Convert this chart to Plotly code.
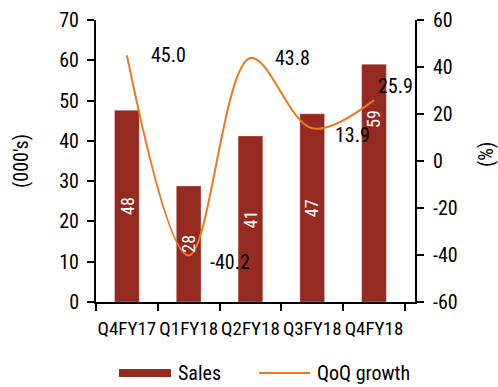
import plotly.graph_objects as go

categories = ["Q4FY17", "Q1FY18", "Q2FY18", "Q3FY18", "Q4FY18"]
sales = [47.6, 28.8, 41.2, 46.7, 59.0]
sales_labels = ["48", "28", "41", "47", "59"]
qoq_growth = [45.0, -40.2, 43.8, 13.9, 25.9]
qoq_labels = ["45.0", "-40.2", "43.8", "13.9", "25.9"]
left_ticks = [0, 10, 20, 30, 40, 50, 60, 70]
right_ticks = [-60, -40, -20, 0, 20, 40, 60]

# label placement (pixels / fractions of bar height)
label_xshift = [22, 19, 23, 21, 2]
label_yshift = [0, -7, 0, -7, 14]
bar_label_frac = [0.5, 0.5, 0.5, 0.5, 0.77]

FONT = "Liberation Sans Narrow, Arial Narrow, Roboto Condensed, DejaVu Sans Condensed, sans-serif"
FS = 20
BAR_COLOR = "#952A20"
LINE_COLOR = "#EB7A1E"

W, H = 498, 387
L, R, T, B = 96, 83, 20, 85
PW, PH = W - L - R, H - T - B


def px_x(px):
    return (px - L) / PW


def px_y(py):
    return (H - B - py) / PH


fig = go.Figure()
fig.add_trace(go.Bar(
    x=categories, y=sales, name="Sales",
    marker=dict(color=BAR_COLOR, line=dict(color="rgba(255,255,255,0.6)", width=0.5)),
    showlegend=False,
))
fig.add_trace(go.Scatter(
    x=categories, y=qoq_growth, name="QoQ growth", yaxis="y2",
    mode="lines", line=dict(color=LINE_COLOR, width=2, shape="spline", smoothing=1.0),
    showlegend=False,
))

annotations = []
for c, v, t, f in zip(categories, sales, sales_labels, bar_label_frac):
    annotations.append(dict(
        x=c, y=v * f, xref="x", yref="y", text=t, showarrow=False, textangle=-90,
        xanchor="center", yanchor="middle",
        font=dict(size=18, color="white", family=FONT),
    ))
for c, v, t, xs, ys in zip(categories, qoq_growth, qoq_labels, label_xshift, label_yshift):
    annotations.append(dict(
        x=c, y=v, xref="x", yref="y2", text=t, showarrow=False,
        xanchor="left", yanchor="middle", xshift=xs, yshift=ys,
        font=dict(size=FS, color="black", family=FONT),
    ))

# axis titles
annotations.append(dict(x=px_x(21), y=0.5, xref="paper", yref="paper", text="(000's)",
                        textangle=-90, showarrow=False, font=dict(size=FS, family=FONT, color="black"),
                        xanchor="center", yanchor="middle"))
annotations.append(dict(x=px_x(486), y=px_y(155), xref="paper", yref="paper", text="(%)",
                        textangle=-90, showarrow=False, font=dict(size=FS, family=FONT, color="black"),
                        xanchor="center", yanchor="middle"))

# custom legend
annotations.append(dict(x=px_x(176), y=px_y(373), xref="paper", yref="paper", text="Sales",
                        showarrow=False, xanchor="left", yanchor="middle",
                        font=dict(size=FS, family=FONT, color="black")))
annotations.append(dict(x=px_x(315), y=px_y(373), xref="paper", yref="paper", text="QoQ growth",
                        showarrow=False, xanchor="left", yanchor="middle",
                        font=dict(size=FS, family=FONT, color="black")))

shapes = [
    dict(type="rect", xref="paper", yref="paper", x0=px_x(119), x1=px_x(171),
         y0=px_y(377), y1=px_y(369), fillcolor=BAR_COLOR, line=dict(width=0)),
    dict(type="line", xref="paper", yref="paper", x0=px_x(259), x1=px_x(310),
         y0=px_y(373), y1=px_y(373), line=dict(color=LINE_COLOR, width=2)),
]

axis_common = dict(
    showline=True, linecolor="black", linewidth=2,
    ticks="outside", ticklen=7, tickwidth=2, tickcolor="black",
    showgrid=False, zeroline=False, automargin=False,
)

fig.update_layout(
    width=W, height=H,
    margin=dict(l=L, r=R, t=T, b=B, pad=0),
    paper_bgcolor="white", plot_bgcolor="white",
    font=dict(family=FONT, size=FS, color="black"),
    bargap=0.6,
    showlegend=False,
    xaxis=dict(tickson="boundaries", tickangle=0, ticklabelstandoff=8,
               tickfont=dict(size=19, family=FONT, color="black"), **axis_common),
    yaxis=dict(range=[0, 70], tickvals=left_ticks, ticklabelstandoff=4,
               ticktext=[str(v) for v in left_ticks],
               tickfont=dict(size=FS, family=FONT, color="black"), **axis_common),
    yaxis2=dict(range=[-60, 60], tickvals=right_ticks, ticklabelstandoff=5,
                ticktext=[str(v) for v in right_ticks],
                overlaying="y", side="right",
                tickfont=dict(size=FS, family=FONT, color="black"), **axis_common),
    annotations=annotations,
    shapes=shapes,
)

fig.write_html("out.html", config={"displayModeBar": False},
               post_script="document.body.style.margin='0';document.body.style.overflow='hidden';")
